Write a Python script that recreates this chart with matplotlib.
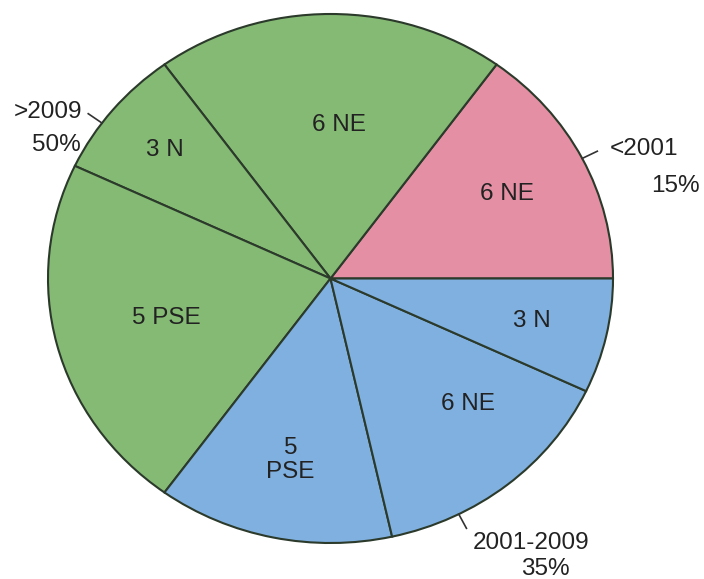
import numpy as np
import matplotlib
matplotlib.use('Agg')
import matplotlib.pyplot as plt

# slices, counter-clockwise from 3 o'clock
slice_labels = ['6 NE', '6 NE', '3 N', '5 PSE', '5\nPSE', '6 NE', '3 N']
slice_values = [15, 20, 8, 22, 13.5, 14.5, 7]
slice_group = [0, 1, 1, 1, 2, 2, 2]

group_names = ['<2001', '>2009', '2001-2009']
group_pct = ['15%', '50%', '35%']
group_colors = ['#E48FA3', '#85BA74', '#7FB0E0']

plt.rcParams['font.family'] = ['Liberation Sans', 'DejaVu Sans']

fig = plt.figure(figsize=(7.04, 5.79), dpi=100)
# pie in the source is slightly squashed vertically
ax = fig.add_axes([48 / 704, 36 / 579, 565 / 704, 529 / 579])

colors = [group_colors[g] for g in slice_group]
wedges, _ = ax.pie(slice_values, colors=colors, startangle=0, counterclock=True,
                   wedgeprops=dict(edgecolor='#2b3a2b', linewidth=1.5))
ax.set_aspect('auto')
ax.set_xlim(-1, 1)
ax.set_ylim(-1, 1)
ax.axis('off')

# inner labels, radial position per slice
inner_r = [0.70, 0.58, 0.76, 0.60, 0.70, 0.68, 0.73]
inner_shift = [0, -3, 0, 0, 0, 7, 0]
for w, lab, r, s in zip(wedges, slice_labels, inner_r, inner_shift):
    a = np.deg2rad((w.theta1 + w.theta2) / 2 + s)
    ax.text(r * np.cos(a), r * np.sin(a), lab, ha='center', va='center',
            fontsize=17.5, color='#222222', linespacing=1.1)

# group leaders and labels
name_pos = [(1.11, 0.49), (-1.0, 0.63), (0.71, -1.0)]
pct_pos = [(1.22, 0.35), (-0.97, 0.505), (0.76, -1.10)]
name_ha = ['left', 'center', 'center']
for g in range(3):
    idx = [i for i, sg in enumerate(slice_group) if sg == g]
    start = wedges[idx[0]].theta1
    end = wedges[idx[-1]].theta2
    a = np.deg2rad((start + end) / 2)
    ax.plot([np.cos(a), 1.06 * np.cos(a)], [np.sin(a), 1.06 * np.sin(a)],
            color='#333333', lw=1.2, clip_on=False)
    x, y = name_pos[g]
    if name_ha[g] == 'left':
        x = x - 0.12
    ax.text(x, y, group_names[g], ha=name_ha[g], va='center', fontsize=17.5,
            color='#222222', clip_on=False)
    ax.text(pct_pos[g][0], pct_pos[g][1], group_pct[g], ha='center', va='center',
            fontsize=17.5, color='#222222', clip_on=False)

fig.savefig('out.png', dpi=100)
